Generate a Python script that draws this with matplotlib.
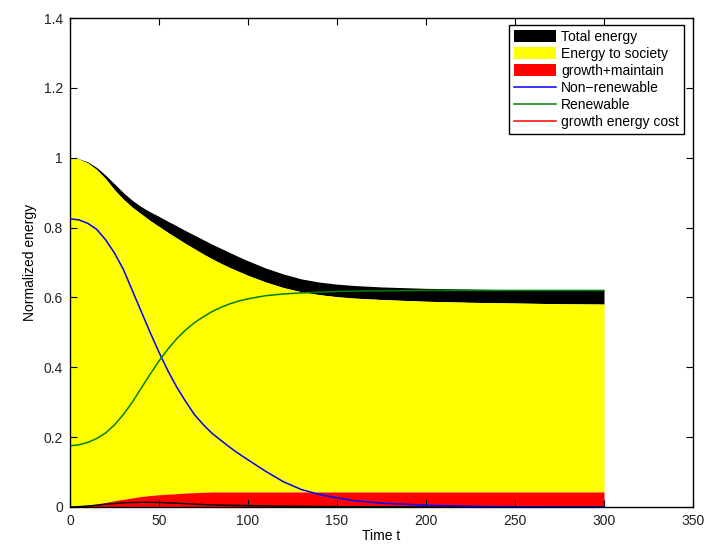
import matplotlib as mpl
import matplotlib.pyplot as plt
from matplotlib.lines import Line2D
from matplotlib.patches import Patch
from matplotlib.ticker import FormatStrFormatter, MultipleLocator

mpl.rcParams.update(
    {
        "font.family": ["Liberation Sans", "DejaVu Sans"],
        "font.size": 10,
        "xtick.direction": "in",
        "ytick.direction": "in",
        "xtick.top": True,
        "ytick.right": True,
    }
)

# time axis
t = [0, 5, 10, 15, 20, 25, 30, 35, 40, 45, 50, 55, 60, 65, 70, 75, 80, 85,
     90, 95, 100, 110, 120, 130, 140, 150, 160, 175, 200, 225, 250, 275, 300]

# energy sources
non_renewable = [0.825, 0.822, 0.812, 0.795, 0.765, 0.727, 0.680, 0.620, 0.560,
                 0.500, 0.443, 0.390, 0.343, 0.302, 0.264, 0.235, 0.210, 0.190,
                 0.170, 0.152, 0.135, 0.102, 0.072, 0.050, 0.036, 0.026, 0.018,
                 0.011, 0.005, 0.002, 0.001, 0.0, 0.0]
renewable = [0.175, 0.178, 0.185, 0.196, 0.212, 0.235, 0.265, 0.300, 0.340,
             0.380, 0.418, 0.452, 0.482, 0.507, 0.528, 0.545, 0.560, 0.572,
             0.582, 0.590, 0.596, 0.605, 0.610, 0.613, 0.615, 0.617, 0.618,
             0.619, 0.620, 0.620, 0.620, 0.620, 0.620]

# stacked areas
total_energy = [1.0, 0.997, 0.988, 0.972, 0.950, 0.925, 0.900, 0.878, 0.860,
                0.845, 0.832, 0.818, 0.805, 0.791, 0.778, 0.765, 0.752, 0.740,
                0.728, 0.716, 0.705, 0.684, 0.667, 0.653, 0.644, 0.638, 0.634,
                0.630, 0.626, 0.624, 0.622, 0.621, 0.620]
to_society = [1.0, 0.996, 0.985, 0.966, 0.940, 0.908, 0.881, 0.858, 0.839,
              0.820, 0.803, 0.786, 0.770, 0.754, 0.739, 0.724, 0.710, 0.697,
              0.685, 0.674, 0.663, 0.644, 0.628, 0.616, 0.608, 0.602, 0.598,
              0.594, 0.589, 0.586, 0.584, 0.582, 0.581]
growth_maintain = [0.0, 0.002, 0.005, 0.009, 0.013, 0.018, 0.022, 0.026, 0.030,
                   0.033, 0.035, 0.037, 0.038, 0.040, 0.041, 0.042, 0.043,
                   0.043, 0.043, 0.043, 0.043, 0.043, 0.043, 0.043, 0.043,
                   0.043, 0.043, 0.043, 0.043, 0.043, 0.043, 0.043, 0.043]
growth_cost = [0.0, 0.001, 0.003, 0.005, 0.008, 0.010, 0.012, 0.013, 0.0135,
               0.0135, 0.013, 0.012, 0.011, 0.0095, 0.008, 0.007, 0.006, 0.0055,
               0.005, 0.0045, 0.004, 0.003, 0.0025, 0.002, 0.0015, 0.001, 0.001,
               0.0005, 0.0, 0.0, 0.0, 0.0, 0.0]

labels = ["Total energy", "Energy to society", "growth+maintain",
          "Non\u2212renewable", "Renewable", "growth energy cost"]

fig = plt.figure(figsize=(7.28, 5.44), dpi=100)
ax = fig.add_axes([70 / 728, 37 / 544, 623 / 728, 489 / 544])

ax.fill_between(t, to_society, total_energy, color="black", lw=0)
ax.fill_between(t, growth_maintain, to_society, color="#ffff00", lw=0)
ax.fill_between(t, 0, growth_maintain, color="#ff0000", lw=0)
ax.plot(t, growth_cost, color="black", lw=1.0)
ax.plot(t, non_renewable, color="#0000ff", lw=1.1)
ax.plot(t, renewable, color="#008000", lw=1.1)

ax.set_xlim(0, 350)
ax.set_ylim(0, 1.4)
ax.xaxis.set_major_locator(MultipleLocator(50))
ax.yaxis.set_major_locator(MultipleLocator(0.2))
ax.yaxis.set_major_formatter(FormatStrFormatter("%g"))
ax.tick_params(length=5, width=0.8, colors="black", labelcolor="#222222")
ax.tick_params(axis="x", pad=5)
ax.tick_params(axis="y", pad=5)
for s in ax.spines.values():
    s.set_linewidth(1.0)

ax.set_xlabel("Time t", labelpad=1)
ax.set_ylabel("Normalized energy", labelpad=5)

handles = [
    Patch(facecolor="black", edgecolor="none"),
    Patch(facecolor="#ffff00", edgecolor="none"),
    Patch(facecolor="#ff0000", edgecolor="none"),
    Line2D([], [], color="#0000ff", lw=1.1),
    Line2D([], [], color="#008000", lw=1.1),
    Line2D([], [], color="#ff0000", lw=1.1),
]
leg = ax.legend(
    handles, labels,
    loc="upper right",
    bbox_to_anchor=(684 / 728, 1 - 25 / 544),
    bbox_transform=fig.transFigure,
    borderaxespad=0,
    fancybox=False,
    framealpha=1,
    edgecolor="black",
    handlelength=3.0,
    handleheight=0.9,
    handletextpad=0.4,
    labelspacing=0.22,
    borderpad=0.35,
)
leg.get_frame().set_linewidth(1.0)

fig.savefig("out.png", dpi=100)
